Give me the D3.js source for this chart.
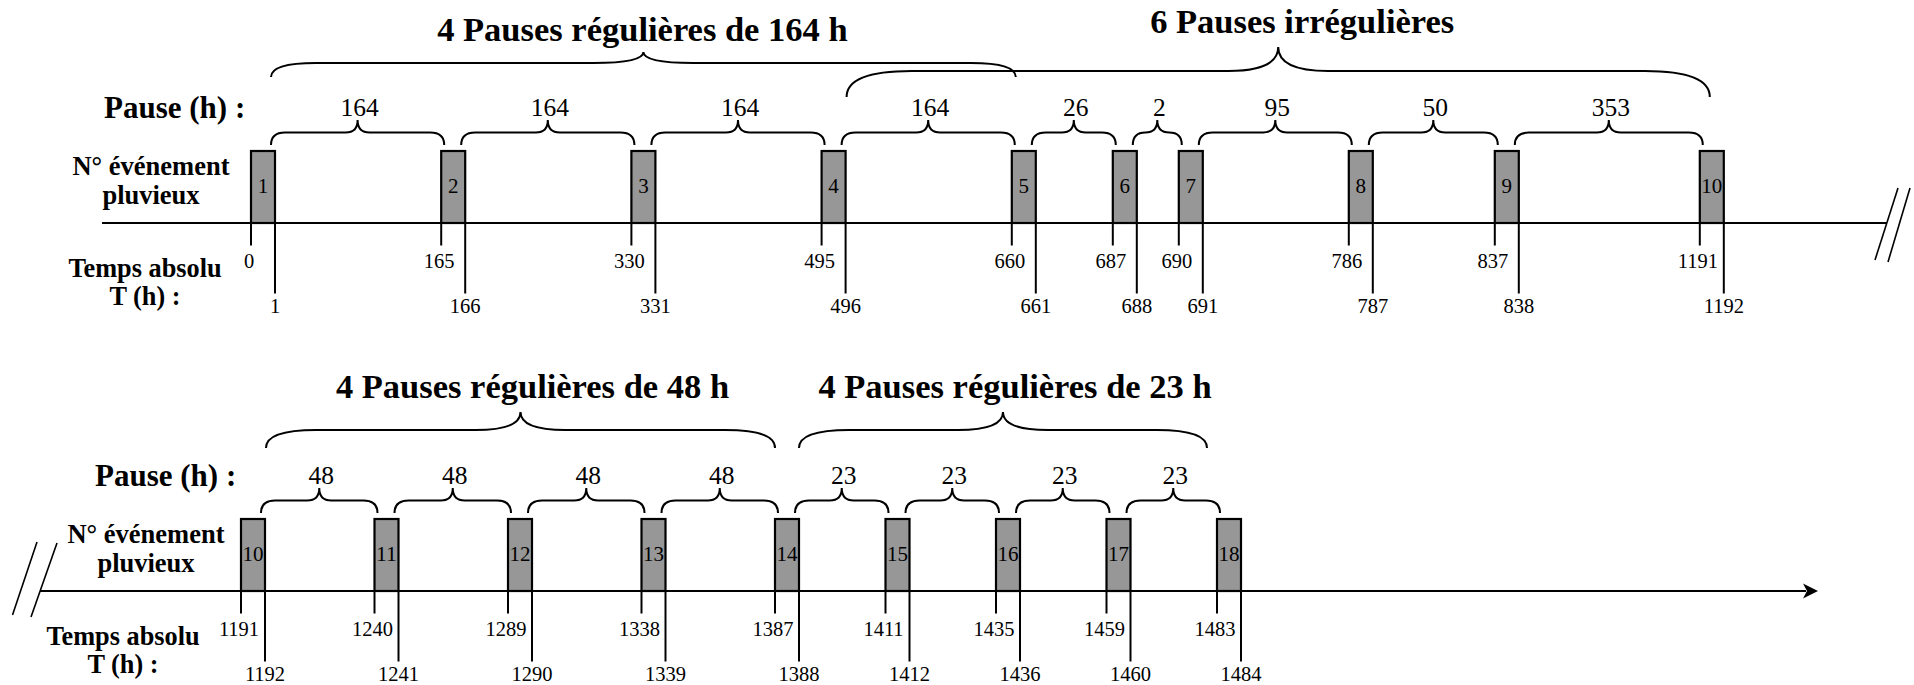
<!DOCTYPE html>
<html><head><meta charset="utf-8">
<script src="https://cdn.jsdelivr.net/npm/d3@7"></script>
<style>
html,body{margin:0;padding:0;background:#fff;}
svg{display:block;}
text{font-family:"Liberation Serif","Times New Roman",Times,serif;fill:#000;}
</style>
</head><body>
<svg id="chart" width="1914" height="685"></svg>
<script>
// ---------------- DATA ----------------
const topEvents  = [1, 2, 3, 4, 5, 6, 7, 8, 9, 10];
const topStarts  = [0, 165, 330, 495, 660, 687, 690, 786, 837, 1191];
const topEnds    = [1, 166, 331, 496, 661, 688, 691, 787, 838, 1192];
const topPauses  = [164, 164, 164, 164, 26, 2, 95, 50, 353];
const topGroupLabels = ["4 Pauses régulières de 164 h", "6 Pauses irrégulières"];
const topGroupFrom   = [1, 4];   // event numbers
const topGroupTo     = [5, 10];

const botEvents  = [10, 11, 12, 13, 14, 15, 16, 17, 18];
const botStarts  = [1191, 1240, 1289, 1338, 1387, 1411, 1435, 1459, 1483];
const botEnds    = [1192, 1241, 1290, 1339, 1388, 1412, 1436, 1460, 1484];
const botPauses  = [48, 48, 48, 48, 23, 23, 23, 23];
const botGroupLabels = ["4 Pauses régulières de 48 h", "4 Pauses régulières de 23 h"];
const botGroupFrom   = [10, 14];
const botGroupTo     = [14, 18];

const pauseLabel = "Pause (h) :";
const eventLabel = ["N° événement", "pluvieux"];
const timeLabel  = ["Temps absolu", "T (h) :"];

// ---------------- LAYOUT / STYLE ----------------
const svg = d3.select("#chart");
const BAR_W = 24;          // display width of a 1-hour event
const BAR_FILL = "#979797";
const SW = 2;

const rows = [
  {
    events: topEvents, starts: topStarts, ends: topEnds, pauses: topPauses,
    gLabels: topGroupLabels, gFrom: topGroupFrom, gTo: topGroupTo,
    axisY: 223, x0: 251, axisFrom: 102, axisTo: 1887,
    // schematic spacing (left edge to next left edge) for a pause duration
    spacing: d3.scaleLinear().domain([2, 26, 50, 95, 164, 353]).range([66, 101, 146, 170, 190.2, 205]),
    groupStyle: [
      {yEnd: 77, yH: 63, yTip: 52, r: 45, r2: 50, titleY: 41, dx: -1, e0: -4, e1: 4},
      {yEnd: 97, yH: 71, yTip: 47, r: 65, r2: 50, titleY: 33, dx: 24, e0: 1, e1: 10}
    ],
    pauseX: 104, eventCx: 151, timeCx: 145, arrow: false
  },
  {
    events: botEvents, starts: botStarts, ends: botEnds, pauses: botPauses,
    gLabels: botGroupLabels, gFrom: botGroupFrom, gTo: botGroupTo,
    axisY: 591, x0: 241, axisFrom: 40, axisTo: 1806,
    spacing: d3.scaleLinear().domain([23, 48]).range([110.5, 133.5]),
    groupStyle: [
      {yEnd: 448, yH: 430, yTip: 412, r: 50, r2: 45, titleY: 398, dx: 12, e0: 1, e1: 0},
      {yEnd: 448, yH: 430, yTip: 412, r: 50, r2: 45, titleY: 398, dx: 12, e0: 0, e1: -10}
    ],
    pauseX: 95, eventCx: 146, timeCx: 123, arrow: true
  }
];

function bracePath(x0, x1, yEnd, yH, yTip, r, r2) {
  const w = x1 - x0;
  r2 = Math.min(r2, w / 4);
  r = Math.min(r, w / 2 - r2);
  const m = (x0 + x1) / 2;
  const p = d3.path();
  p.moveTo(x0, yEnd);
  p.quadraticCurveTo(x0, yH, x0 + r, yH);
  p.lineTo(m - r2, yH);
  p.quadraticCurveTo(m, yH, m, yTip);
  p.quadraticCurveTo(m, yH, m + r2, yH);
  p.lineTo(x1 - r, yH);
  p.quadraticCurveTo(x1, yH, x1, yEnd);
  return p.toString();
}

rows.forEach(row => {
  const g = svg.append("g");
  const A = row.axisY;

  // Build the schematic piecewise time scale from the data
  const lefts = [row.x0];
  row.pauses.forEach((p, i) => lefts.push(lefts[i] + row.spacing(p)));
  const dom = [], rng = [];
  row.starts.forEach((s, i) => {
    dom.push(s, row.ends[i]);
    rng.push(lefts[i], lefts[i] + BAR_W);
  });
  const x = d3.scaleLinear().domain(dom).range(rng);

  // axis line
  g.append("line")
    .attr("x1", row.axisFrom).attr("x2", row.axisTo)
    .attr("y1", A).attr("y2", A)
    .attr("stroke", "#000").attr("stroke-width", SW);

  if (row.arrow) {
    const t = row.axisTo;
    g.append("path")
      .attr("d", `M${t + 12},${A} L${t - 3},${A - 7.5} L${t + 1},${A} L${t - 3},${A + 7.5} Z`)
      .attr("fill", "#000");
    [[12.5, 615, 37, 542], [31, 617, 57, 543]].forEach(d =>
      g.append("line").attr("x1", d[0]).attr("y1", d[1]).attr("x2", d[2]).attr("y2", d[3])
        .attr("stroke", "#000").attr("stroke-width", 1.6));
  } else {
    [[1875, 260, 1898, 188], [1888, 262, 1910, 188]].forEach(d =>
      g.append("line").attr("x1", d[0]).attr("y1", d[1]).attr("x2", d[2]).attr("y2", d[3])
        .attr("stroke", "#000").attr("stroke-width", 1.6));
  }

  // bars (rain events)
  g.selectAll("rect.ev").data(row.events).join("rect")
    .attr("class", "ev")
    .attr("x", (d, i) => x(row.starts[i]))
    .attr("width", (d, i) => x(row.ends[i]) - x(row.starts[i]))
    .attr("y", A - 72).attr("height", 72)
    .attr("fill", BAR_FILL).attr("stroke", "#000").attr("stroke-width", 2.2);

  g.selectAll("text.evl").data(row.events).join("text")
    .attr("class", "evl")
    .attr("x", (d, i) => (x(row.starts[i]) + x(row.ends[i])) / 2)
    .attr("y", A - 36 + 6)
    .attr("text-anchor", "middle")
    .attr("font-size", 21)
    .attr("textLength", d => String(d).length > 1 ? 21 : null)
    .attr("lengthAdjust", "spacingAndGlyphs")
    .text(d => d);

  // ticks: start (short) and end (long)
  g.selectAll("line.ts").data(row.starts).join("line")
    .attr("class", "ts")
    .attr("x1", d => x(d)).attr("x2", d => x(d))
    .attr("y1", A).attr("y2", A + 22.5)
    .attr("stroke", "#000").attr("stroke-width", SW);
  g.selectAll("line.te").data(row.ends).join("line")
    .attr("class", "te")
    .attr("x1", d => x(d)).attr("x2", d => x(d))
    .attr("y1", A).attr("y2", A + 70.5)
    .attr("stroke", "#000").attr("stroke-width", SW);
  g.selectAll("text.ts").data(row.starts).join("text")
    .attr("class", "ts")
    .attr("x", d => x(d) - 2).attr("y", A + 45)
    .attr("text-anchor", "middle").attr("font-size", 20.5)
    .text(d => d);
  g.selectAll("text.te").data(row.ends).join("text")
    .attr("class", "te")
    .attr("x", d => x(d)).attr("y", A + 90)
    .attr("text-anchor", "middle").attr("font-size", 20.5)
    .text(d => d);

  // small pause braces
  row.pauses.forEach((p, i) => {
    const x0 = x(row.ends[i]) - 4, x1 = x(row.starts[i + 1]) + 3;
    g.append("path")
      .attr("d", bracePath(x0, x1, A - 78, A - 90.5, A - 103, 14, 12))
      .attr("fill", "none").attr("stroke", "#000").attr("stroke-width", SW);
    g.append("text")
      .attr("x", (x0 + x1) / 2 + 2).attr("y", A - 107.5)
      .attr("text-anchor", "middle").attr("font-size", 25.5)
      .text(p);
  });

  // group braces & titles
  row.gLabels.forEach((lab, k) => {
    const s = row.groupStyle[k];
    const i0 = row.events.indexOf(row.gFrom[k]);
    const i1 = row.events.indexOf(row.gTo[k]);
    const x0 = x(row.ends[i0]) + s.e0, x1 = x(row.starts[i1]) + s.e1;
    g.append("path")
      .attr("d", bracePath(x0, x1, s.yEnd, s.yH, s.yTip, s.r, s.r2))
      .attr("fill", "none").attr("stroke", "#000").attr("stroke-width", SW);
    g.append("text")
      .attr("x", (x0 + x1) / 2 + s.dx).attr("y", s.titleY)
      .attr("text-anchor", "middle").attr("font-size", 34.5).attr("font-weight", "bold")
      .text(lab);
  });

  // left labels
  g.append("text").attr("x", row.pauseX).attr("y", A - 105.5)
    .attr("font-size", 31).attr("font-weight", "bold").text(pauseLabel);
  eventLabel.forEach((t, j) =>
    g.append("text").attr("x", row.eventCx).attr("y", A - 48 + j * 29)
      .attr("text-anchor", "middle").attr("font-size", 26.5).attr("font-weight", "bold").text(t));
  timeLabel.forEach((t, j) =>
    g.append("text").attr("x", row.timeCx).attr("y", A + 54 + j * 28)
      .attr("text-anchor", "middle").attr("font-size", 26.3).attr("font-weight", "bold").text(t));
});
</script>
</body></html>
